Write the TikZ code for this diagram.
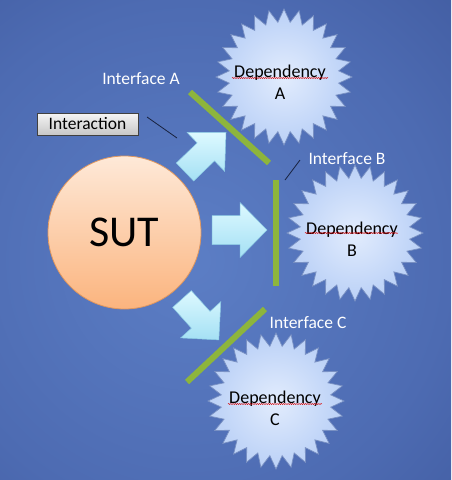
\documentclass[tikz,border=0pt]{standalone}
\usepackage{fontspec}
\setmainfont{Carlito}
\usetikzlibrary{decorations.pathmorphing}
\definecolor{bgA}{HTML}{5C7EC5}
\definecolor{bgB}{HTML}{4D6BB2}
\definecolor{bgC}{HTML}{273A7A}
\definecolor{starA}{HTML}{E2ECFD}
\definecolor{starB}{HTML}{C2D6F8}
\definecolor{starC}{HTML}{9BB8EB}
\definecolor{starline}{HTML}{7990C2}
\definecolor{arrA}{HTML}{DDF9FF}
\definecolor{arrB}{HTML}{A4E0F4}
\definecolor{arrline}{HTML}{8CCBE4}
\definecolor{barcol}{HTML}{8DB53C}
\definecolor{sutA}{HTML}{FEE9D8}
\definecolor{sutB}{HTML}{FBB47E}
\definecolor{sutline}{HTML}{E0975E}
\definecolor{leadcol}{HTML}{18223E}
\pgfdeclareradialshading{bgshade}{\pgfpoint{0bp}{0bp}}{color(0bp)=(bgA); color(18bp)=(bgB); color(50bp)=(bgC)}
\pgfdeclareradialshading{starshade}{\pgfpoint{0bp}{0bp}}{color(0bp)=(starA); color(20bp)=(starB); color(50bp)=(starC)}
\tikzset{
  deptext/.style={align=center, font=\fontsize{18}{22}\selectfont, text=black, inner sep=0pt},
  iflabel/.style={font=\fontsize{17.5}{21}\selectfont, text=white, inner sep=0pt},
  interbox/.style={draw=black!75, line width=0.8pt, top color=white!96!black, bottom color=black!22,
     minimum width=101pt, minimum height=22pt, inner sep=0pt, font=\fontsize{17.5}{21}\selectfont},
  sutnode/.style={circle, draw=sutline, line width=0.8pt, top color=sutA, bottom color=sutB,
     minimum size=153pt, inner sep=0pt, font=\fontsize{44}{50}\selectfont},
  barline/.style={draw=barcol, line width=6pt},
  leader/.style={draw=leadcol, line width=0.8pt},
  blockarrow/.style={top color=arrA, bottom color=arrB, draw=arrline, line width=0.5pt},
  squig/.style={draw=red!85!black, line width=0.4pt, decorate,
     decoration={snake, amplitude=0.6pt, segment length=2.2pt}},
  starstyle/.style={shading=starshade, draw=starline, line width=0.7pt}
}
\begin{document}
\begin{tikzpicture}[x=1pt,y=-1pt]
\useasboundingbox (0,0) rectangle (451,480);
% background
\begin{scope}
  \clip (0,0) rectangle (451,480);
  \shade[shading=bgshade] (-170,-100) rectangle (550,620);
\end{scope}
% starbursts
\foreach \cx/\cy in {284/77, 355/233, 276/401}{
  \begin{scope}[shift={(\cx,\cy)}]
    \shade[starstyle] (90:68) \foreach \i in {0,...,27}{ -- ({90+(\i+0.5)*360/28}:55) -- ({90+(\i+1)*360/28}:68)} -- cycle;
  \end{scope}
}
% dependency texts
\node[deptext] (depA) at (280,82) {Dependency\\A};
\node[deptext] (depB) at (352,239) {Dependency\\B};
\node[deptext] (depC) at (275,408) {Dependency\\C};
\draw[squig] (232,78) -- (328,78);
\draw[squig] (305,233) -- (398,233);
\draw[squig] (228,404) -- (322,404);
% SUT
\node[sutnode] (sut) at (124.5,232.5) {SUT};
% block arrows
\begin{scope}[shift={(185,172)}, rotate=44]
  \shade[blockarrow] (0,-12.5) -- (29,-12.5) -- (29,-27) -- (57,0) -- (29,27) -- (29,12.5) -- (0,12.5) -- cycle;
\end{scope}
\begin{scope}[shift={(212,230)}]
  \shade[blockarrow] (0,-14.5) -- (28,-14.5) -- (28,-27.5) -- (55,0) -- (28,27.5) -- (28,14.5) -- (0,14.5) -- cycle;
\end{scope}
\begin{scope}[shift={(182,299)}, rotate=-48]
  \shade[blockarrow] (0,-12.5) -- (28,-12.5) -- (28,-27) -- (55,0) -- (28,27) -- (28,12.5) -- (0,12.5) -- cycle;
\end{scope}
% interface bars
\coordinate (barA1) at (190,92);
\coordinate (barA2) at (269,163);
\coordinate (barB1) at (275.5,180);
\coordinate (barB2) at (275.5,286);
\coordinate (barC1) at (265,309);
\coordinate (barC2) at (187,382);
\draw[barline] (barA1) -- (barA2);
\draw[barline] (barB1) -- (barB2);
\draw[barline] (barC1) -- (barC2);
% labels
\node[iflabel] (ifA) at (141,79) {Interface A};
\node[iflabel] (ifB) at (347,159) {Interface B};
\node[iflabel] (ifC) at (308,323) {Interface C};
\node[interbox] (inter) at (87.5,124) {Interaction};
% leader lines
\coordinate (li1) at (147,117);
\coordinate (li2) at (177,138);
\draw[leader] (li1) -- (li2);
\coordinate (lb1) at (285,180);
\coordinate (lb2) at (300,160);
\draw[leader] (lb1) -- (lb2);
\end{tikzpicture}
\end{document}
